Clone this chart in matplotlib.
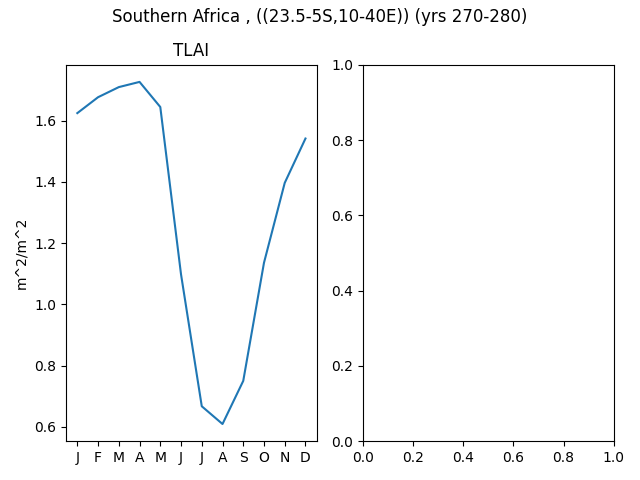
import numpy as np
import matplotlib
matplotlib.use('Agg')
import matplotlib.pyplot as plt

months = ['J', 'F', 'M', 'A', 'M', 'J', 'J', 'A', 'S', 'O', 'N', 'D']
tlai = [1.625, 1.677, 1.710, 1.727, 1.645, 1.098, 0.667, 0.609, 0.750, 1.136, 1.397, 1.542]

fig, axs = plt.subplots(1, 2, figsize=(6.4, 4.8), dpi=100)
fig.suptitle('Southern Africa , ((23.5-5S,10-40E)) (yrs 270-280)', y=0.984)

ax = axs[0]
ax.plot(np.arange(len(months)), tlai)
ax.set_xticks(np.arange(len(months)))
ax.set_xticklabels(months)
ax.set_title('TLAI')
ax.set_ylabel('m^2/m^2')

fig.subplots_adjust(left=0.103, right=0.959, top=0.865, bottom=0.081, wspace=0.183)
fig.savefig('out.png')
